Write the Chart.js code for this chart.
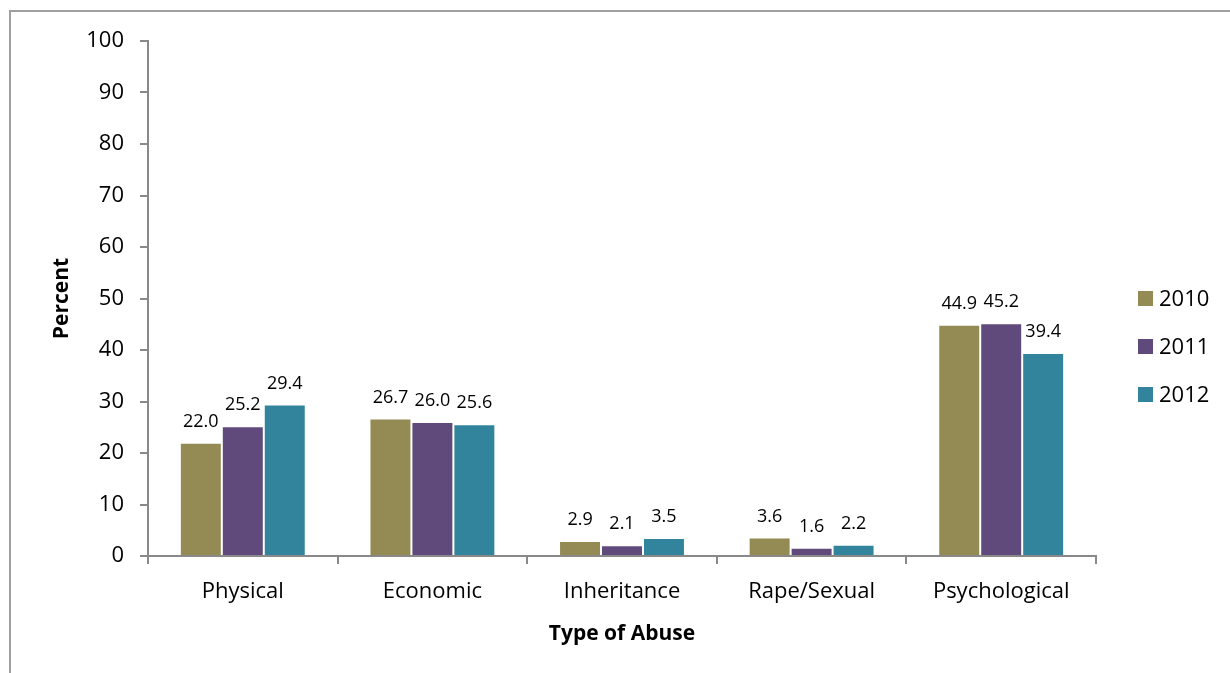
<!DOCTYPE html>
<html>
<head>
<meta charset="utf-8">
<script src="https://cdn.jsdelivr.net/npm/chart.js@4.4.1/dist/chart.umd.min.js"></script>
<style>
  body { margin: 0; background: #fff; }
  #wrap { position: relative; width: 1230px; height: 673px; overflow: hidden; }
  #frame { position: absolute; left: 9px; top: 10px; width: 1400px; height: 800px;
           border-left: 2px solid #a0a0a0; border-top: 2px solid #a0a0a0; }
  canvas { position: absolute; left: 0; top: 0; }
</style>
</head>
<body>
<div id="wrap">
  <div id="frame"></div>
  <canvas id="chart1" width="1230" height="673"></canvas>
</div>
<script>
// categories and series
const categories = ["Physical", "Economic", "Inheritance", "Rape/Sexual", "Psychological"];
const years = ["2010", "2011", "2012"];
const values2010 = [22.0, 26.7, 2.9, 3.6, 44.9];
const values2011 = [25.2, 26.0, 2.1, 1.6, 45.2];
const values2012 = [29.4, 25.6, 3.5, 2.2, 39.4];
const yearColors = ["#948A54", "#604A7B", "#31849B"];

const FONT = "'Open Sans', sans-serif";

// value labels above each bar
const barLabels = {
  id: 'barLabels',
  afterDatasetsDraw(chart) {
    const ctx = chart.ctx;
    ctx.save();
    ctx.font = "18px " + FONT;
    ctx.fillStyle = "#000";
    ctx.textAlign = "center";
    ctx.textBaseline = "bottom";
    chart.data.datasets.forEach((ds, i) => {
      chart.getDatasetMeta(i).data.forEach((bar, j) => {
        ctx.fillText(ds.data[j].toFixed(1), bar.x, bar.y - 12);
      });
    });
    ctx.restore();
  }
};

// legend on the right
const sideLegend = {
  id: 'sideLegend',
  afterDraw(chart) {
    const ctx = chart.ctx;
    ctx.save();
    ctx.font = "22px " + FONT;
    ctx.textBaseline = "middle";
    ctx.textAlign = "left";
    chart.data.datasets.forEach((ds, i) => {
      const y = 299 + i * 48;
      ctx.fillStyle = ds.backgroundColor;
      ctx.fillRect(1138, y - 8, 15, 15);
      ctx.fillStyle = "#000";
      ctx.fillText(ds.label, 1159, y + 1);
    });
    ctx.restore();
  }
};

new Chart(document.getElementById("chart1"), {
  type: 'bar',
  data: {
    labels: categories,
    datasets: [
      { label: years[0], data: values2010, backgroundColor: yearColors[0] },
      { label: years[1], data: values2011, backgroundColor: yearColors[1] },
      { label: years[2], data: values2012, backgroundColor: yearColors[2] }
    ].map(d => Object.assign(d, {
      borderColor: "rgba(255,255,255,0.3)",
      borderWidth: 1,
      categoryPercentage: 0.664,
      barPercentage: 1.0
    }))
  },
  options: {
    responsive: false,
    animation: false,
    layout: { padding: { left: 45, top: 41, right: 134, bottom: 22 } },
    plugins: {
      legend: { display: false },
      tooltip: { enabled: false }
    },
    scales: {
      x: {
        offset: true,
        grid: { offset: true, drawOnChartArea: false, drawTicks: true, tickLength: 8, color: "#898989", lineWidth: 2 },
        border: { color: "#898989", width: 2 },
        ticks: { color: "#000", font: { family: FONT, size: 22 }, padding: 15, maxRotation: 0 },
        title: { display: true, text: "Type of Abuse", color: "#000", font: { family: FONT, size: 21, weight: "bold" } },
        afterFit(scale) { scale.height = 95; }
      },
      y: {
        min: 0,
        max: 100,
        grid: { drawOnChartArea: false, drawTicks: true, tickLength: 8, color: "#898989", lineWidth: 2 },
        border: { color: "#898989", width: 2 },
        ticks: { stepSize: 10, color: "#000", font: { family: FONT, size: 22 }, padding: 16 },
        title: { display: true, text: "Percent", color: "#000", font: { family: FONT, size: 21, weight: "bold" } },
        afterFit(scale) { scale.width = 103; }
      }
    }
  },
  plugins: [barLabels, sideLegend]
});
</script>
</body>
</html>
